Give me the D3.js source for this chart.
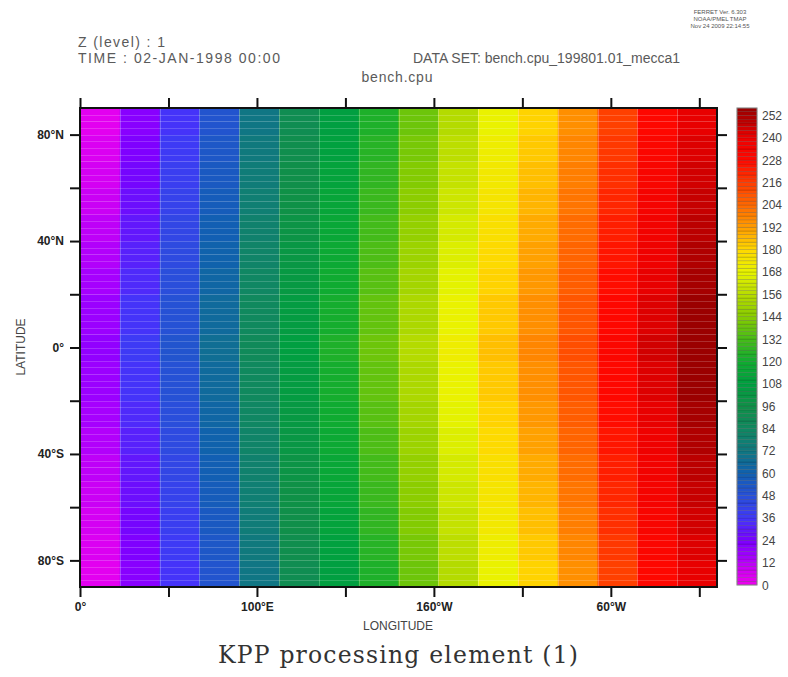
<!DOCTYPE html>
<html><head><meta charset="utf-8">
<script src="https://cdn.jsdelivr.net/npm/d3@7"></script>
<style>body{margin:0;background:#fff;} svg{display:block;}</style>
</head><body>
<script>
// ---- data ----
const lonEdges = [0,22.5,45,67.5,90,112.5,135,157.5,180,202.5,225,247.5,270,292.5,315,337.5,360];
const colBase = [2,20,34,50,70,90,106,122,138,154,168,180,194,214,228,240];
// latitude offset per 5° band, from 90°S to 90°N
const latOffset = [0,1,2,3,4,5,6,7,8,9,10,11,12,13,14,14,15,16,16,15,14,14,13,12,11,10,9,8,7,6,5,4,3,2,1,0];
const latTicks = [-80,-60,-40,-20,0,20,40,60,80];
const latLabels = {"80":"80°N","40":"40°N","0":"0°","-40":"40°S","-80":"80°S"};
const lonTicks = [0,50,100,150,200,250,300,350];
const lonLabels = {"0":"0°","100":"100°E","200":"160°W","300":"60°W"};
const cbTicks = [0,12,24,36,48,60,72,84,96,108,120,132,144,156,168,180,192,204,216,228,240,252];
// palette control points
const palVals = [0,8,16,24,36,48,60,72,84,96,108,120,132,144,156,168,180,192,204,216,228,240,248,256];
const palCols = ["#ee00ee","#d000f4","#a000ff","#7a00ff","#4038f8","#2850d8","#1060b0","#107880","#108860","#109048","#00a040","#10ac30","#48bc18","#88cc00","#b8dc00","#e8f400","#ffd800","#ff9c00","#ff6800","#ff3c00","#ff0800","#ee0000","#c00000","#960000"];

const W=788,H=677;
const svg=d3.select("body").append("svg").attr("width",W).attr("height",H);
const x=d3.scaleLinear().domain([0,360]).range([80,717]);
const y=d3.scaleLinear().domain([-90,90]).range([587,108]);
const pal=d3.scaleLinear().domain(palVals).range(palCols).clamp(true);
const level=v=>Math.min(255,Math.floor(v/2)*2+1);

// cells
const cells=[];
colBase.forEach((b,i)=>latOffset.forEach((o,j)=>cells.push({i,j,v:b+o})));
svg.append("g").selectAll("rect").data(cells).join("rect")
  .attr("x",d=>x(lonEdges[d.i])).attr("width",d=>x(lonEdges[d.i+1])-x(lonEdges[d.i])+0.5)
  .attr("y",d=>y(-90+5*(d.j+1))).attr("height",d=>y(-90+5*d.j)-y(-90+5*(d.j+1))+0.5)
  .attr("fill",d=>pal(level(d.v)));
// faint seams
const g2=svg.append("g").attr("stroke","#fff").attr("stroke-opacity",0.18).attr("stroke-width",1);
d3.range(-87.5,90,2.5).forEach(l=>g2.append("line").attr("x1",x(0)).attr("x2",x(360)).attr("y1",Math.round(y(l))+0.5).attr("y2",Math.round(y(l))+0.5));
lonEdges.slice(1,-1).forEach(l=>g2.append("line").attr("y1",y(90)).attr("y2",y(-90)).attr("x1",Math.round(x(l))+0.5).attr("x2",Math.round(x(l))+0.5).attr("stroke-opacity",0.25));

// frame
svg.append("rect").attr("x",x(0)).attr("y",y(90)).attr("width",x(360)-x(0)).attr("height",y(-90)-y(90))
  .attr("fill","none").attr("stroke","#111").attr("stroke-width",2);

// axes
const tickStyle=g=>{g.select(".domain").remove();g.selectAll("line").attr("stroke","#111").attr("stroke-width",2);
  g.selectAll("text").attr("font-family","Liberation Sans, Arial, sans-serif").attr("font-weight","bold").attr("font-size",12).attr("fill","#222");};
svg.append("g").attr("transform",`translate(0,${y(-90)})`).call(d3.axisBottom(x).tickValues(lonTicks).tickSize(10).tickPadding(5).tickFormat(d=>lonLabels[d]||"")).call(tickStyle);
svg.append("g").attr("transform",`translate(0,${y(90)})`).call(d3.axisTop(x).tickValues(lonTicks).tickSize(10).tickFormat("")).call(tickStyle);
svg.append("g").attr("transform",`translate(${x(0)},0)`).call(d3.axisLeft(y).tickValues(latTicks).tickSize(10).tickPadding(6).tickFormat(d=>latLabels[d]||"")).call(tickStyle);
svg.append("g").attr("transform",`translate(${x(360)},0)`).call(d3.axisRight(y).tickValues(latTicks).tickSize(10).tickFormat("")).call(tickStyle);

// axis titles
const sans="Liberation Sans, Arial, sans-serif";
svg.append("text").attr("x",398).attr("y",630).attr("text-anchor","middle").attr("font-family",sans).attr("font-size",12).attr("fill","#444").text("LONGITUDE");
svg.append("text").attr("transform","translate(25,347) rotate(-90)").attr("text-anchor","middle").attr("font-family",sans).attr("font-size",12).attr("fill","#444").text("LATITUDE");

// header
const hdr=(t,xx,yy,len,anchor)=>svg.append("text").attr("x",xx).attr("y",yy).attr("text-anchor",anchor||"start")
  .attr("font-family",sans).attr("font-size",14).attr("fill","#5a5a5a").attr("textLength",len).attr("lengthAdjust","spacing").text(t);
hdr("Z (level) : 1",78,47,87);
hdr("TIME : 02-JAN-1998 00:00",78,63,202);
hdr("DATA SET: bench.cpu_199801.01_mecca1",413,63,267);
hdr("bench.cpu",397,82,71,"middle");
["FERRET Ver. 6.303","NOAA/PMEL TMAP","Nov 24 2009 22:14:55"].forEach((t,i)=>
  svg.append("text").attr("x",720).attr("y",14+i*7).attr("text-anchor","middle").attr("font-family",sans).attr("font-size",6).attr("fill","#555").text(t));

// colorbar
const cb=d3.scaleLinear().domain([0,256]).range([585,108]);
const cbg=svg.append("g");
cbg.selectAll("rect").data(d3.range(0,256,2)).join("rect")
  .attr("x",737).attr("width",20).attr("y",d=>cb(d+2)).attr("height",d=>cb(d)-cb(d+2))
  .attr("fill",d=>pal(d+1)).attr("stroke","#000").attr("stroke-opacity",0.25).attr("stroke-width",0.6);
cbg.append("rect").attr("x",737).attr("y",cb(256)).attr("width",20).attr("height",cb(0)-cb(256)).attr("fill","none").attr("stroke","#888").attr("stroke-width",1);
cbg.selectAll("text").data(cbTicks).join("text").attr("x",762).attr("y",d=>cb(d)+4.5)
  .attr("font-family",sans).attr("font-size",12).attr("fill","#444").text(d=>d);

// caption
svg.append("text").attr("x",218).attr("y",663).attr("font-family","DejaVu Serif, serif").attr("font-size",23.5).attr("fill","#333")
  .attr("textLength",360).attr("lengthAdjust","spacing").text("KPP processing element (1)");
</script>
</body></html>
